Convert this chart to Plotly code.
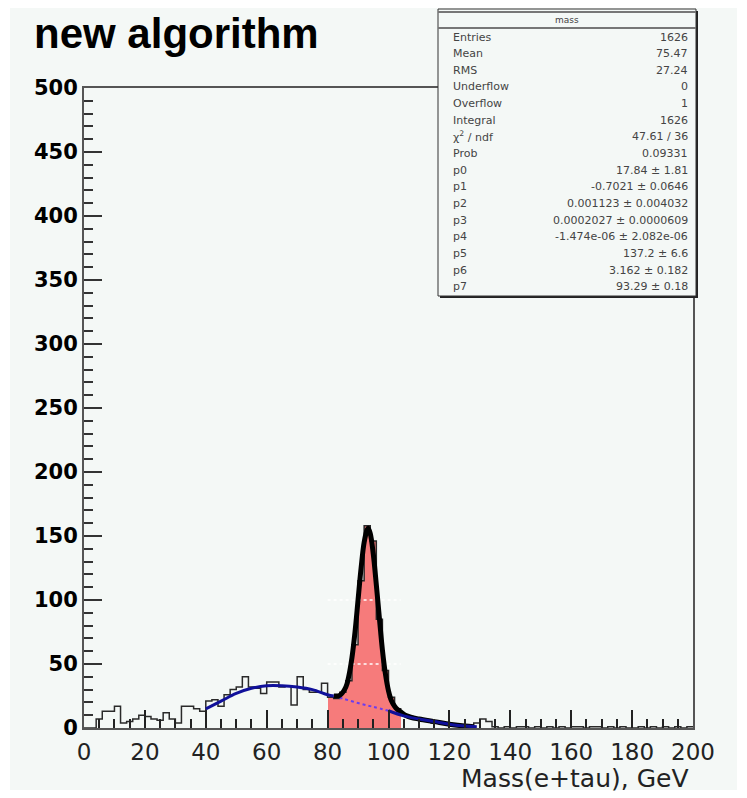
import plotly.graph_objects as go

# ---------------- data ----------------
bin_width = 2.0
bin_lo = [i * 2.0 for i in range(100)]  # left edges 0..198
counts = [
    0, 0, 7, 13, 13, 17, 4, 5, 7, 10,          # 0-20
    9, 7, 6, 12, 7, 4, 17, 17, 15, 13,         # 20-40
    21, 22, 17, 26, 30, 32, 40, 32, 31, 27,    # 40-60
    36, 36, 32, 33, 18, 40, 30, 28, 28, 35,    # 60-80
    24, 23, 28, 37, 65, 115, 158, 146, 85, 45, # 80-100
    24, 15, 10, 9, 7, 6, 6, 4, 4, 3,           # 100-120
    2, 2, 1, 1, 4, 7, 5, 1, 0, 1,              # 120-140
    0, 1, 1, 0, 1, 0, 1, 0, 1, 0,              # 140-160
    1, 1, 0, 1, 1, 0, 1, 0, 1, 0,              # 160-180
    0, 1, 0, 1, 0, 1, 0, 1, 0, 1,              # 180-200
]
fit_lo, fit_hi = 80, 104

# background (polynomial) component
bg_x = [40, 45, 50, 55, 60, 65, 70, 75, 80, 82, 85, 90, 95, 100, 105, 110, 115, 120, 125, 129]
bg_y = [15, 21, 27, 31, 33, 33, 32, 30, 26, 25, 23, 19.5, 16.5, 13.5, 9.5, 7, 5, 3, 1.5, 1]
bg_dotted_lo, bg_dotted_hi = 82, 100

# total fit (signal + background)
fit_x = [82, 84, 86, 87, 88, 89, 90, 91, 92, 93, 93.3, 94, 95, 96, 97, 98, 99, 100,
         101, 102, 103, 104, 106, 110, 115, 120, 125, 128]
fit_y = [25, 25.5, 32, 41, 55, 75, 100, 125, 145, 155, 156, 152, 136, 112, 86, 61, 42, 29,
         21, 17, 14.3, 12.6, 9.5, 7, 5, 3, 1.5, 1]

grid_levels = [50, 100]

x_ticks = [0, 20, 40, 60, 80, 100, 120, 140, 160, 180, 200]
y_ticks = [0, 50, 100, 150, 200, 250, 300, 350, 400, 450, 500]

stat_title = "mass"
stat_names = ["Entries", "Mean", "RMS", "Underflow", "Overflow", "Integral",
              "χ<sup>2</sup> / ndf", "Prob", "p0", "p1", "p2", "p3", "p4", "p5", "p6", "p7"]
stat_values = ["1626", "75.47", "27.24", "0", "1", "1626", "47.61 / 36", "0.09331",
               "17.84 ± 1.81", "-0.7021 ± 0.0646", "0.001123 ± 0.004032",
               "0.0002027 ± 0.0000609", "-1.474e-06 ± 2.082e-06",
               "137.2 ± 6.6", "3.162 ± 0.182", "93.29 ± 0.18"]

# ---------------- layout constants (reference pixels) ----------------
W, H = 747, 798
OFF = 8  # page body margin
PL, PR, PT, PB = 84, 693, 88, 728
BG = "#f4f8f6"


def px_x(p):
    return (p - PL) / (PR - PL)


def px_y(p):
    return (PB - p) / (PB - PT)


fig = go.Figure()

# red filled bins in fit range
centers = [lo + bin_width / 2 for lo in bin_lo]
red_x = [c for c, v in zip(centers, counts) if fit_lo <= c <= fit_hi]
red_y = [v for c, v in zip(centers, counts) if fit_lo <= c <= fit_hi]
fig.add_trace(go.Bar(x=red_x, y=red_y, width=bin_width, marker=dict(color="#f67b7b", line=dict(width=0)),
                     hoverinfo="skip"))

# white dotted levels visible in fill
for g in grid_levels:
    fig.add_trace(go.Scatter(x=[fit_lo, fit_hi], y=[g, g], mode="lines",
                             line=dict(color="white", width=1.5, dash="dot"), hoverinfo="skip"))

# histogram outline
step_x = bin_lo + [bin_lo[-1] + bin_width]
step_y = counts + [counts[-1]]
fig.add_trace(go.Scatter(x=step_x, y=step_y, mode="lines", line=dict(color="#2a2a2a", width=1.5, shape="hv"),
                         hoverinfo="skip"))

# background curve: solid / dotted / solid
seg1 = [(x, y) for x, y in zip(bg_x, bg_y) if x <= bg_dotted_lo]
seg2 = [(x, y) for x, y in zip(bg_x, bg_y) if bg_dotted_lo <= x <= bg_dotted_hi]
seg3 = [(x, y) for x, y in zip(bg_x, bg_y) if x >= bg_dotted_hi]
fig.add_trace(go.Scatter(x=[p[0] for p in seg2], y=[p[1] for p in seg2], mode="lines",
                         line=dict(color="#6a3cf0", width=2, dash="dot", shape="spline"), hoverinfo="skip"))

# total fit
fig.add_trace(go.Scatter(x=fit_x, y=fit_y, mode="lines", line=dict(color="black", width=5, shape="spline"),
                         hoverinfo="skip"))
for seg in (seg1, seg3):
    fig.add_trace(go.Scatter(x=[p[0] for p in seg], y=[p[1] for p in seg], mode="lines",
                             line=dict(color="#10109a", width=3, shape="spline"), hoverinfo="skip"))

# canvas background
shapes = [dict(type="rect", xref="paper", yref="paper", x0=px_x(10), x1=px_x(737), y0=px_y(790), y1=px_y(8),
               fillcolor=BG, line=dict(width=0), layer="below")]

# stats box
bx0, bx1, by0, by1 = 438, 696, 9, 296
shapes.append(dict(type="rect", xref="paper", yref="paper", x0=px_x(bx0 + 2), x1=px_x(bx1 + 2),
                   y0=px_y(by1 + 2), y1=px_y(by0 + 2), fillcolor="#222222", line=dict(width=0), layer="above"))
shapes.append(dict(type="rect", xref="paper", yref="paper", x0=px_x(bx0), x1=px_x(bx1),
                   y0=px_y(by1), y1=px_y(by0), fillcolor=BG, line=dict(color="#333333", width=1), layer="above"))
for yy in (12, 28):
    shapes.append(dict(type="line", xref="paper", yref="paper", x0=px_x(bx0), x1=px_x(bx1),
                       y0=px_y(yy), y1=px_y(yy), line=dict(color="#777777", width=2), layer="above"))

annotations = [dict(text=stat_title, xref="paper", yref="paper", x=px_x((bx0 + bx1) / 2), y=px_y(20),
                    showarrow=False, xanchor="center", yanchor="middle",
                    font=dict(family="DejaVu Sans", size=9, color="#444444"))]
row0, dy = 37, 16.66
for i, (n, v) in enumerate(zip(stat_names, stat_values)):
    yy = px_y(row0 + i * dy)
    annotations.append(dict(text=n, xref="paper", yref="paper", x=px_x(451), y=yy, showarrow=False,
                            xanchor="left", yanchor="middle",
                            font=dict(family="DejaVu Sans", size=11, color="#444444")))
    annotations.append(dict(text=v, xref="paper", yref="paper", x=px_x(690), y=yy, showarrow=False,
                            xanchor="right", yanchor="middle",
                            font=dict(family="DejaVu Sans", size=11, color="#444444")))

# title
annotations.append(dict(text="<b>new algorithm</b>", xref="paper", yref="paper", x=px_x(32), y=px_y(34),
                        showarrow=False, xanchor="left", yanchor="middle",
                        font=dict(family="Liberation Sans", size=42, color="black")))
# x-axis title
annotations.append(dict(text="Mass(e+tau), GeV", xref="paper", yref="paper", x=px_x(691), y=px_y(778),
                        showarrow=False, xanchor="right", yanchor="middle",
                        font=dict(family="DejaVu Sans", size=25, color="#222222")))

fig.update_layout(
    width=W - OFF, height=H - OFF,
    margin=dict(l=PL - OFF, r=W - PR, t=PT - OFF, b=H - PB, pad=0),
    paper_bgcolor="white", plot_bgcolor=BG,
    showlegend=False, bargap=0,
    shapes=shapes, annotations=annotations,
    xaxis=dict(range=[0, 200], tickvals=x_ticks, ticktext=[str(t) for t in x_ticks],
               ticks="inside", ticklen=18, tickwidth=2, tickcolor="#222222",
               minor=dict(dtick=5, tick0=0, ticks="inside", ticklen=9, tickwidth=2, tickcolor="#222222"),
               showgrid=False, zeroline=False, showline=True, linecolor="#555555", linewidth=2, mirror=True,
               tickfont=dict(family="DejaVu Sans", size=23, color="#222222"), ticklabelstandoff=2),
    yaxis=dict(range=[0, 500], tickvals=y_ticks, ticktext=[str(t) for t in y_ticks],
               ticks="inside", ticklen=18, tickwidth=2, tickcolor="#333333",
               minor=dict(dtick=10, tick0=0, ticks="inside", ticklen=9, tickwidth=1.5, tickcolor="#333333"),
               showgrid=False, zeroline=False, showline=True, linecolor="#555555", linewidth=2, mirror=True,
               tickfont=dict(family="DejaVu Sans", size=21, color="black", weight="bold"), ticklabelstandoff=0),
)

fig.write_html("out.html")
